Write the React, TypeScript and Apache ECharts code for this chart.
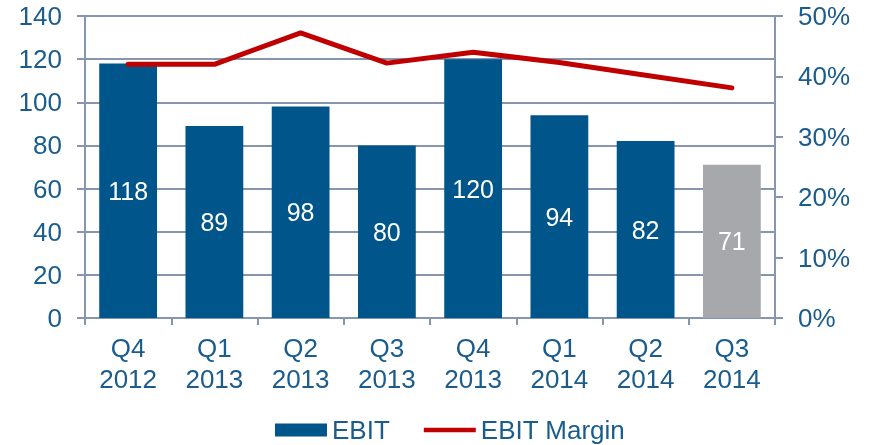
import React, { useEffect, useRef } from "react";
import * as echarts from "echarts";

const categories = ["Q4\n2012", "Q1\n2013", "Q2\n2013", "Q3\n2013", "Q4\n2013", "Q1\n2014", "Q2\n2014", "Q3\n2014"];
const ebit = [118, 89, 98, 80, 120, 94, 82, 71];
const ebitMargin = [42, 42, 47.2, 42.2, 44, 42.3, 40.2, 38.1];
const leftTicks = { min: 0, max: 140, interval: 20 };
const rightTicks = { min: 0, max: 50, interval: 10 };

const BLUE = "#00558a";
const GRAY = "#a7a8ac";
const RED = "#c00000";
const TEXT = "#1b5c8c";
const AXIS = "#8696ae";
const FONT = "'Liberation Sans', Arial, sans-serif";

export default function App() {
  const ref = useRef<HTMLDivElement>(null);
  useEffect(() => {
    if (!ref.current) return;
    const chart = echarts.init(ref.current, null, { renderer: "svg" });
    chart.setOption({
      animation: false,
      textStyle: { fontFamily: FONT },
      grid: { left: 85, right: 95, top: 16, bottom: 127 },
      legend: {
        bottom: -3,
        left: 270,
        itemGap: 34,
        itemWidth: 52,
        itemHeight: 13,
        textStyle: { color: TEXT, fontSize: 26, fontFamily: FONT },
        data: [
          { name: "EBIT", icon: "rect", itemStyle: { color: BLUE } },
          { name: "EBIT Margin", icon: "path://M0,0 L55,0 L55,5 L0,5 Z", itemStyle: { color: RED } },
        ],
      },
      xAxis: {
        type: "category",
        data: categories,
        axisLine: { show: true, lineStyle: { color: AXIS, width: 2 } },
        axisTick: { show: true, length: 7, lineStyle: { color: AXIS, width: 2 } },
        axisLabel: { color: TEXT, fontSize: 26, lineHeight: 31, margin: 14, fontFamily: FONT },
      },
      yAxis: [
        {
          type: "value",
          min: leftTicks.min,
          max: leftTicks.max,
          interval: leftTicks.interval,
          axisLine: { show: true, lineStyle: { color: AXIS, width: 2 } },
          axisTick: { show: true, length: 8, lineStyle: { color: AXIS, width: 2 } },
          splitLine: { show: true, lineStyle: { color: AXIS, width: 2 } },
          axisLabel: { color: TEXT, fontSize: 26, margin: 23, fontFamily: FONT },
        },
        {
          type: "value",
          position: "right",
          min: rightTicks.min,
          max: rightTicks.max,
          interval: rightTicks.interval,
          axisLine: { show: true, lineStyle: { color: AXIS, width: 2 } },
          axisTick: { show: true, length: 8, lineStyle: { color: AXIS, width: 2 } },
          splitLine: { show: false },
          axisLabel: { color: TEXT, fontSize: 26, margin: 23, formatter: "{value}%", fontFamily: FONT },
        },
      ],
      series: [
        {
          name: "EBIT",
          type: "bar",
          barCategoryGap: "33%",
          color: BLUE,
          data: ebit.map((v, i) => ({
            value: v,
            itemStyle: { color: i === ebit.length - 1 ? GRAY : BLUE },
          })),
          label: {
            show: true,
            position: "inside",
            color: "#ffffff",
            fontSize: 25,
            fontFamily: FONT,
          },
        },
        {
          name: "EBIT Margin",
          type: "line",
          yAxisIndex: 1,
          color: RED,
          data: ebitMargin,
          symbol: "none",
          lineStyle: { color: RED, width: 5, cap: "round", join: "round" },
        },
      ],
    });
    return () => chart.dispose();
  }, []);
  return <div ref={ref} style={{ position: "fixed", left: 0, top: 0, width: 870, height: 445 }} />;
}
